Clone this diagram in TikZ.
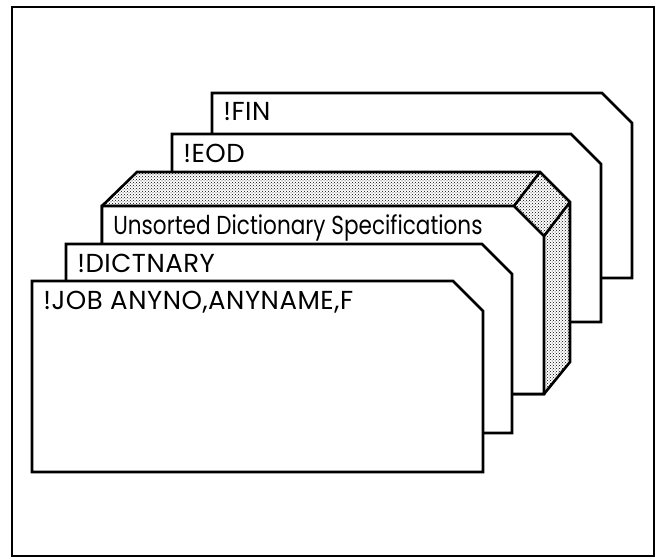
\documentclass[tikz,border=0pt]{standalone}
\usepackage{fontspec}
\usetikzlibrary{patterns}
\newfontfamily\cardfont{Poppins}[FakeStretch=0.83]
\newfontfamily\capfont{Poppins}[LetterSpace=2]
\begin{document}
\begin{tikzpicture}[x=1pt,y=-1pt,line width=2.6pt,
  cardtext/.style={anchor=base west,inner sep=0pt,font=\cardfont\fontsize{26}{26}\selectfont},
  captext/.style={cardtext,font=\capfont\fontsize{26}{26}\selectfont}]
\pgfmathsetmacro{\ch}{30}
\useasboundingbox(0,0)rectangle(664,559);
\draw[line width=2.2pt](12,7)coordinate(fA)rectangle(654,556)coordinate(fB);
\foreach \l/\t/\r/\b/\nm/\txt in {212/93/632/278/fin/!FIN,172/134/601/322/eod/!EOD}{
  \draw[fill=white](\l,\b)--(\l,\t)--(\r-\ch,\t)--(\r,\t+\ch)--(\r,\b)--cycle;
  \node[captext](\nm)at(\l+10,\t+28){\txt};
}
\draw[preaction={fill=white},pattern=crosshatch dots,pattern color=black]
  (102,394)--(102,206)--(137,172)coordinate(kA)--(540,172)coordinate(kB)
  --(570,202)coordinate(kC)--(570,362)--(544,394)--cycle;
\foreach \l/\t/\r/\b/\nm/\txt/\sty in {102/206/544/394/uds/{Unsorted Dictionary Specifications}/cardtext,
  66/244/512/433/dic/!DICTNARY/captext,32/281/483/472/job/{!JOB ANYNO,ANYNAME,F}/captext}{
  \draw[fill=white](\l,\b)--(\l,\t)--(\r-\ch,\t)--(\r,\t+\ch)--(\r,\b)--cycle;
  \node[\sty](\nm)at(\l+10,\t+28){\txt};
}
\draw(544-\ch,206)--(kB)(544,206+\ch)--(kC);
\end{tikzpicture}
\end{document}
